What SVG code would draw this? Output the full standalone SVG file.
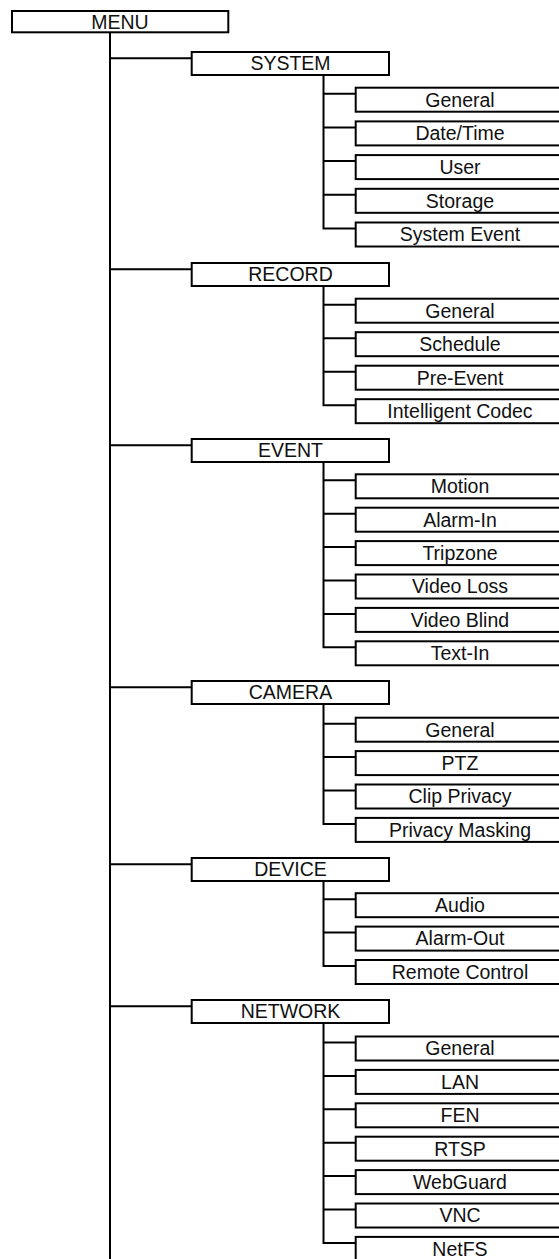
<svg xmlns="http://www.w3.org/2000/svg" width="559" height="1259" viewBox="0 0 559 1259">
<style>
.b{fill:#fff;stroke:#000;stroke-width:2}
.c{fill:none;stroke:#000;stroke-width:2;stroke-linecap:square}
text{font-family:"Liberation Sans",Arial,sans-serif;font-size:19.5px;fill:#111;text-anchor:middle}
</style>
<rect width="559" height="1259" fill="#fff"/>
<g id="connectors">
<path class="c" d="M110,33 V1262"/>
<path class="c" d="M110,58.3 H191 M110,269.3 H191 M110,445.3 H191 M110,687.3 H191 M110,864.3 H191 M110,1006.3 H191"/>
<path class="c" d="M323.5,76 V228.5 H355 M323.5,93.7 H355 M323.5,127.4 H355 M323.5,161.1 H355 M323.5,194.8 H355"/>
<path class="c" d="M323.5,287 V405.2 H355 M323.5,304.7 H355 M323.5,338.2 H355 M323.5,371.7 H355"/>
<path class="c" d="M323.5,463 V647.3 H355 M323.5,480.3 H355 M323.5,513.7 H355 M323.5,547.1 H355 M323.5,580.5 H355 M323.5,613.9 H355"/>
<path class="c" d="M323.5,705 V823.9 H355 M323.5,723.7 H355 M323.5,757.1 H355 M323.5,790.5 H355"/>
<path class="c" d="M323.5,882 V966 H355 M323.5,899.2 H355 M323.5,932.6 H355"/>
<path class="c" d="M323.5,1024 V1242.9 H355 M323.5,1042.5 H355 M323.5,1075.9 H355 M323.5,1109.3 H355 M323.5,1142.7 H355 M323.5,1176.1 H355 M323.5,1209.5 H355"/>
</g>
<g id="menu"><rect class="b" x="12" y="11" width="216.3" height="21.3"/><text x="120" y="28.5">MENU</text></g>

<g id="system"><rect class="b" x="191.7" y="52" width="197.3" height="23"/><text x="290.5" y="70.3">SYSTEM</text></g>
<g id="system-general"><rect class="b" x="355.7" y="87.7" width="210" height="24"/><text x="460" y="106.5">General</text></g>
<g id="system-datetime"><rect class="b" x="355.7" y="121.4" width="210" height="24"/><text x="460" y="140.2">Date/Time</text></g>
<g id="system-user"><rect class="b" x="355.7" y="155.1" width="210" height="24"/><text x="460" y="173.9">User</text></g>
<g id="system-storage"><rect class="b" x="355.7" y="188.8" width="210" height="24"/><text x="460" y="207.6">Storage</text></g>
<g id="system-event"><rect class="b" x="355.7" y="222.5" width="210" height="24"/><text x="460" y="241.3">System Event</text></g>

<g id="record"><rect class="b" x="191.7" y="263" width="197.3" height="23"/><text x="290.5" y="281.3">RECORD</text></g>
<g id="record-general"><rect class="b" x="355.7" y="298.7" width="210" height="24"/><text x="460" y="317.5">General</text></g>
<g id="record-schedule"><rect class="b" x="355.7" y="332.2" width="210" height="24"/><text x="460" y="351">Schedule</text></g>
<g id="record-preevent"><rect class="b" x="355.7" y="365.7" width="210" height="24"/><text x="460" y="384.5">Pre-Event</text></g>
<g id="record-codec"><rect class="b" x="355.7" y="399.2" width="210" height="24"/><text x="460" y="418">Intelligent Codec</text></g>

<g id="event"><rect class="b" x="191.7" y="439" width="197.3" height="23"/><text x="290.5" y="457.3">EVENT</text></g>
<g id="event-motion"><rect class="b" x="355.7" y="474.3" width="210" height="24"/><text x="460" y="493.1">Motion</text></g>
<g id="event-alarmin"><rect class="b" x="355.7" y="507.7" width="210" height="24"/><text x="460" y="526.5">Alarm-In</text></g>
<g id="event-tripzone"><rect class="b" x="355.7" y="541.1" width="210" height="24"/><text x="460" y="559.9">Tripzone</text></g>
<g id="event-videoloss"><rect class="b" x="355.7" y="574.5" width="210" height="24"/><text x="460" y="593.3">Video Loss</text></g>
<g id="event-videoblind"><rect class="b" x="355.7" y="607.9" width="210" height="24"/><text x="460" y="626.7">Video Blind</text></g>
<g id="event-textin"><rect class="b" x="355.7" y="641.3" width="210" height="24"/><text x="460" y="660.1">Text-In</text></g>

<g id="camera"><rect class="b" x="191.7" y="681" width="197.3" height="23"/><text x="290.5" y="699.3">CAMERA</text></g>
<g id="camera-general"><rect class="b" x="355.7" y="717.7" width="210" height="24"/><text x="460" y="736.5">General</text></g>
<g id="camera-ptz"><rect class="b" x="355.7" y="751.1" width="210" height="24"/><text x="460" y="769.9">PTZ</text></g>
<g id="camera-clipprivacy"><rect class="b" x="355.7" y="784.5" width="210" height="24"/><text x="460" y="803.3">Clip Privacy</text></g>
<g id="camera-privacymasking"><rect class="b" x="355.7" y="817.9" width="210" height="24"/><text x="460" y="836.7">Privacy Masking</text></g>

<g id="device"><rect class="b" x="191.7" y="858" width="197.3" height="23"/><text x="290.5" y="876.3">DEVICE</text></g>
<g id="device-audio"><rect class="b" x="355.7" y="893.2" width="210" height="24"/><text x="460" y="912">Audio</text></g>
<g id="device-alarmout"><rect class="b" x="355.7" y="926.6" width="210" height="24"/><text x="460" y="945.4">Alarm-Out</text></g>
<g id="device-remote"><rect class="b" x="355.7" y="960" width="210" height="24"/><text x="460" y="978.8">Remote Control</text></g>

<g id="network"><rect class="b" x="191.7" y="1000" width="197.3" height="23"/><text x="290.5" y="1018.3">NETWORK</text></g>
<g id="network-general"><rect class="b" x="355.7" y="1036.5" width="210" height="24"/><text x="460" y="1055.3">General</text></g>
<g id="network-lan"><rect class="b" x="355.7" y="1069.9" width="210" height="24"/><text x="460" y="1088.7">LAN</text></g>
<g id="network-fen"><rect class="b" x="355.7" y="1103.3" width="210" height="24"/><text x="460" y="1122.1">FEN</text></g>
<g id="network-rtsp"><rect class="b" x="355.7" y="1136.7" width="210" height="24"/><text x="460" y="1155.5">RTSP</text></g>
<g id="network-webguard"><rect class="b" x="355.7" y="1170.1" width="210" height="24"/><text x="460" y="1188.9">WebGuard</text></g>
<g id="network-vnc"><rect class="b" x="355.7" y="1203.5" width="210" height="24"/><text x="460" y="1222.3">VNC</text></g>
<g id="network-netfs"><rect class="b" x="355.7" y="1236.9" width="210" height="24"/><text x="460" y="1255.7">NetFS</text></g>
</svg>
